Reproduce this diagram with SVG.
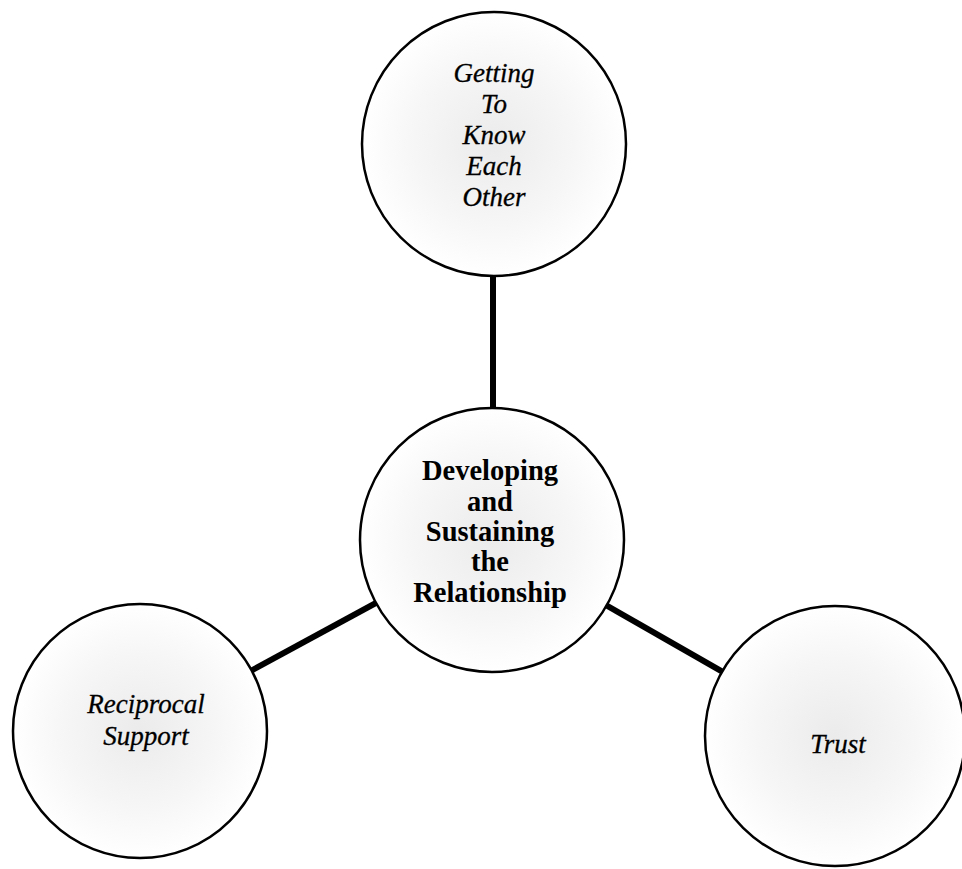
<svg xmlns="http://www.w3.org/2000/svg" width="962" height="869" viewBox="0 0 962 869">
<defs>
<radialGradient id="speck" cx="0.5" cy="0.5" r="0.5">
<stop offset="0" stop-color="#ebebeb"/>
<stop offset="0.6" stop-color="#f6f6f6"/>
<stop offset="1" stop-color="#ffffff"/>
</radialGradient>
<style>
.node circle{fill:url(#speck);stroke:#000;stroke-width:2.5}
.lbl{font-family:"Liberation Serif","Times New Roman",serif;font-size:27px;font-style:italic;text-anchor:middle;fill:#000;stroke:#000;stroke-width:0.3}
.hub{font-family:"Liberation Serif","Times New Roman",serif;font-size:28.5px;font-weight:bold;text-anchor:middle;fill:#000}
.conn line{stroke:#000;stroke-width:6}
</style>
</defs>
<rect width="962" height="869" fill="#fff"/>
<g id="connectors" class="conn">
<line x1="493" y1="144" x2="493" y2="540"/>
<line x1="492" y1="540" x2="140" y2="731"/>
<line x1="492" y1="540" x2="835" y2="736"/>
</g>
<g id="node-getting" class="node">
<circle cx="494" cy="144" r="132"/>
<text class="lbl" x="494" y="82">Getting</text>
<text class="lbl" x="494" y="113">To</text>
<text class="lbl" x="494" y="144">Know</text>
<text class="lbl" x="494" y="175">Each</text>
<text class="lbl" x="494" y="206">Other</text>
</g>
<g id="node-center" class="node">
<circle cx="492" cy="540" r="132"/>
<text class="hub" x="490" y="480">Developing</text>
<text class="hub" x="490" y="511">and</text>
<text class="hub" x="490" y="541">Sustaining</text>
<text class="hub" x="490" y="571">the</text>
<text class="hub" x="490" y="602">Relationship</text>
</g>
<g id="node-reciprocal" class="node">
<circle cx="140" cy="731" r="127"/>
<text class="lbl" x="146" y="713">Reciprocal</text>
<text class="lbl" x="146" y="745">Support</text>
</g>
<g id="node-trust" class="node">
<circle cx="835" cy="736" r="130"/>
<text class="lbl" x="838" y="753">Trust</text>
</g>
</svg>
